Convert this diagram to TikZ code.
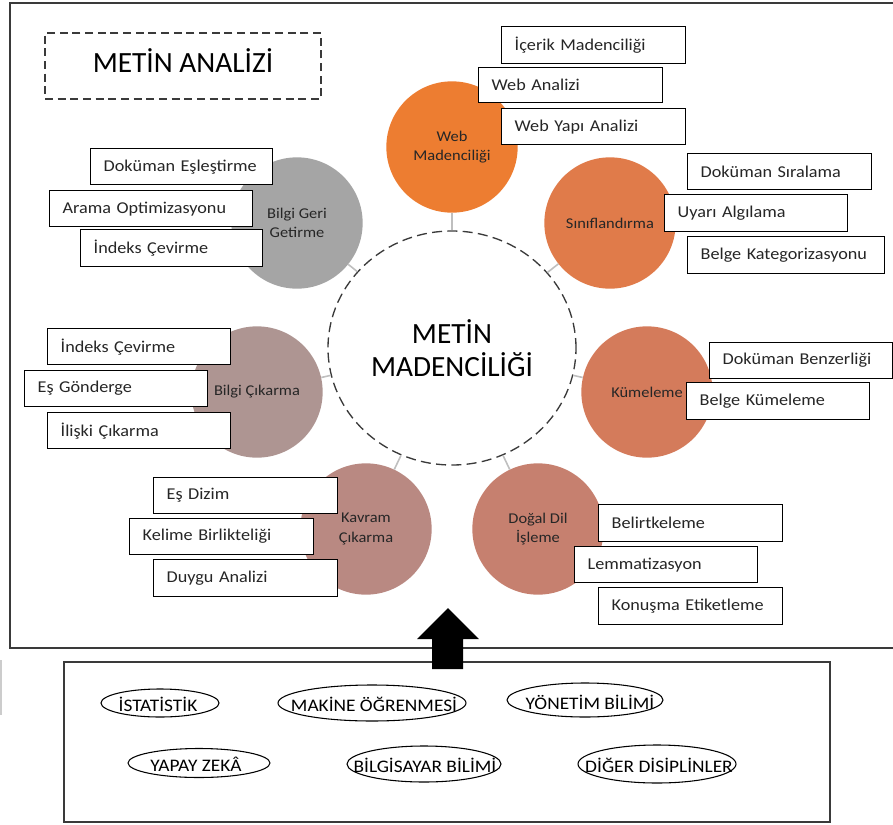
\documentclass[tikz,border=0pt]{standalone}
\usepackage{fontspec}
\setmainfont{Carlito}
\newfontfamily\labelfont[FakeStretch=1.1]{Carlito}
\usetikzlibrary{shapes.geometric}

\definecolor{ink}{HTML}{262626}
\definecolor{framegray}{HTML}{3A3A3A}
\definecolor{stubgray}{HTML}{BFBFBF}
\definecolor{cweb}{HTML}{ED7D31}
\definecolor{ccls}{HTML}{E07B4A}
\definecolor{ckum}{HTML}{D47B5B}
\definecolor{cdog}{HTML}{C6806F}
\definecolor{ckav}{HTML}{B98982}
\definecolor{cbic}{HTML}{AE9592}
\definecolor{cbgg}{HTML}{A5A5A5}

% a white labelled box given by its corners in px: name, x1, y1, x2, y2, text
\newcommand\tagbox[6]{%
  \pgfmathsetmacro\tbW{(#4-#2)*0.75}%
  \pgfmathsetmacro\tbH{(#5-#3)*0.75}%
  \pgfmathsetmacro\tbT{(#4-#2-26)*0.75}%
  \node[tagbox, minimum width=\tbW pt, minimum height=\tbH pt,
        text width=\tbT pt, anchor=north west] (#1) at (#2,#3) {#6};%
}

\begin{document}
\begin{tikzpicture}[x=0.75pt, y=-0.75pt,
  frame/.style={draw=framegray, line width=1.1pt},
  sat/.style={circle, minimum size=98.5pt, inner sep=0pt, text=ink, align=center,
    font=\labelfont\fontsize{11.2}{14.6}\selectfont},
  core/.style={ellipse, draw=framegray, dash pattern=on 7.5pt off 4pt, line width=1pt,
    minimum width=186pt, minimum height=175.5pt, inner sep=0pt, align=center,
    text=black, font=\fontsize{22}{25}\selectfont},
  stub/.style={draw=stubgray, line width=1.2pt},
  tagbox/.style={draw=black, line width=1pt, fill=white, align=left,
    inner xsep=9.75pt, inner ysep=0pt, text=ink,
    font=\labelfont\fontsize{12.4}{15}\selectfont},
  field/.style={inner sep=0pt, text=black, font=\labelfont\fontsize{13.2}{16}\selectfont},
  ring/.style={draw=black, line width=0.8pt},
  titlebox/.style={draw=framegray, line width=1pt, dash pattern=on 6pt off 3.5pt,
    minimum width=207pt, minimum height=49.5pt, inner sep=0pt},
  titletext/.style={inner sep=0pt, text=black, font=\fontsize{22}{25}\selectfont}
]
\useasboundingbox (0,0) rectangle (893,825);

% outer frames
\draw[frame] (893,3) -- (10,3) -- (10,648) -- (893,648);
\draw[frame] (64,662) rectangle (830,822);
\draw[stubgray!80, line width=1.5pt] (0.8,660) -- (0.8,715);

% title
\node[titlebox] (titlebox) at (183,66) {};
\node[titletext] (title) at (183,61) {METİN ANALİZİ};

% centre and satellites
\node[core] (core) at (452,348) {METİN\\MADENCİLİĞİ};
\node[sat, fill=cweb] (web) at (452,147) {Web\\Madenciliği};
\node[sat, fill=ccls] (cls) at (610,223) {Sınıflandırma};
\node[sat, fill=ckum] (kum) at (647,392) {Kümeleme};
\node[sat, fill=cdog] (dog) at (538,529) {Doğal Dil\\İşleme};
\node[sat, fill=ckav] (kav) at (366,529) {Kavram\\Çıkarma};
\node[sat, fill=cbic] (bic) at (257,392) {Bilgi Çıkarma};
\node[sat, fill=cbgg] (bgg) at (297,223) {Bilgi Geri\\Getirme};

\foreach \s in {web,cls,kum,dog,kav,bic,bgg}
  \draw[stub] (core) -- (\s);

% web mining
\tagbox{icerik}{501}{26}{685}{63}{İçerik Madenciliği}
\tagbox{webanaliz}{478}{67}{662}{102}{Web Analizi}
\tagbox{webyapi}{501}{108}{685}{144}{Web Yapı Analizi}
% classification
\tagbox{docsira}{687}{153}{871}{189}{Doküman Sıralama}
\tagbox{uyari}{664}{194}{847}{231}{Uyarı Algılama}
\tagbox{belgekat}{687}{236}{884}{273}{Belge Kategorizasyonu}
% clustering
\tagbox{docbenz}{709}{342}{892}{378}{Doküman Benzerliği}
\tagbox{belgekum}{686}{382}{869}{419}{Belge Kümeleme}
% natural language processing
\tagbox{belirt}{598}{504}{782}{541}{Belirtkeleme}
\tagbox{lemma}{574}{546}{757}{582}{Lemmatizasyon}
\tagbox{konusma}{598}{587}{782}{624}{Konuşma Etiketleme}
% concept extraction
\tagbox{esdizim}{153}{477}{337}{513}{Eş Dizim}
\tagbox{kelime}{129}{518}{313}{554}{Kelime Birlikteliği}
\tagbox{duygu}{153}{559}{337}{596}{Duygu Analizi}
% information extraction
\tagbox{indeksb}{47}{328}{230}{364}{İndeks Çevirme}
\tagbox{esgond}{24}{370}{207}{406}{Eş Gönderge}
\tagbox{iliski}{47}{412}{230}{448}{İlişki Çıkarma}
% information retrieval
\tagbox{docesl}{90}{148}{272}{184}{Doküman Eşleştirme}
\tagbox{arama}{49}{190}{252}{226}{Arama Optimizasyonu}
\tagbox{indeksa}{80}{229}{262}{266}{İndeks Çevirme}

% block arrow from the disciplines up to text mining
\fill[black] (432,669) -- (432,639) -- (417,639) -- (448,608) -- (479,639)
  -- (463,639) -- (463,669) -- cycle;

% contributing disciplines
\node[field] (ist) at (158,704) {İSTATİSTİK};
\node[field] (mak) at (374,704) {MAKİNE ÖĞRENMESİ};
\node[field] (yon) at (590,702) {YÖNETİM BİLİMİ};
\node[field] (yz) at (196,764) {YAPAY ZEKÂ};
\node[field] (bil) at (425,765) {BİLGİSAYAR BİLİMİ};
\node[field] (dig) at (659,765) {DİĞER DİSİPLİNLER};
\draw[ring] (160,703) ellipse [x radius=59, y radius=14];
\draw[ring] (372,703) ellipse [x radius=94, y radius=18];
\draw[ring] (585,700) ellipse [x radius=78, y radius=17];
\draw[ring] (199,763) ellipse [x radius=71, y radius=14.5];
\draw[ring] (424,764) ellipse [x radius=77, y radius=18];
\draw[ring] (657,764) ellipse [x radius=79, y radius=19];
\end{tikzpicture}
\end{document}
